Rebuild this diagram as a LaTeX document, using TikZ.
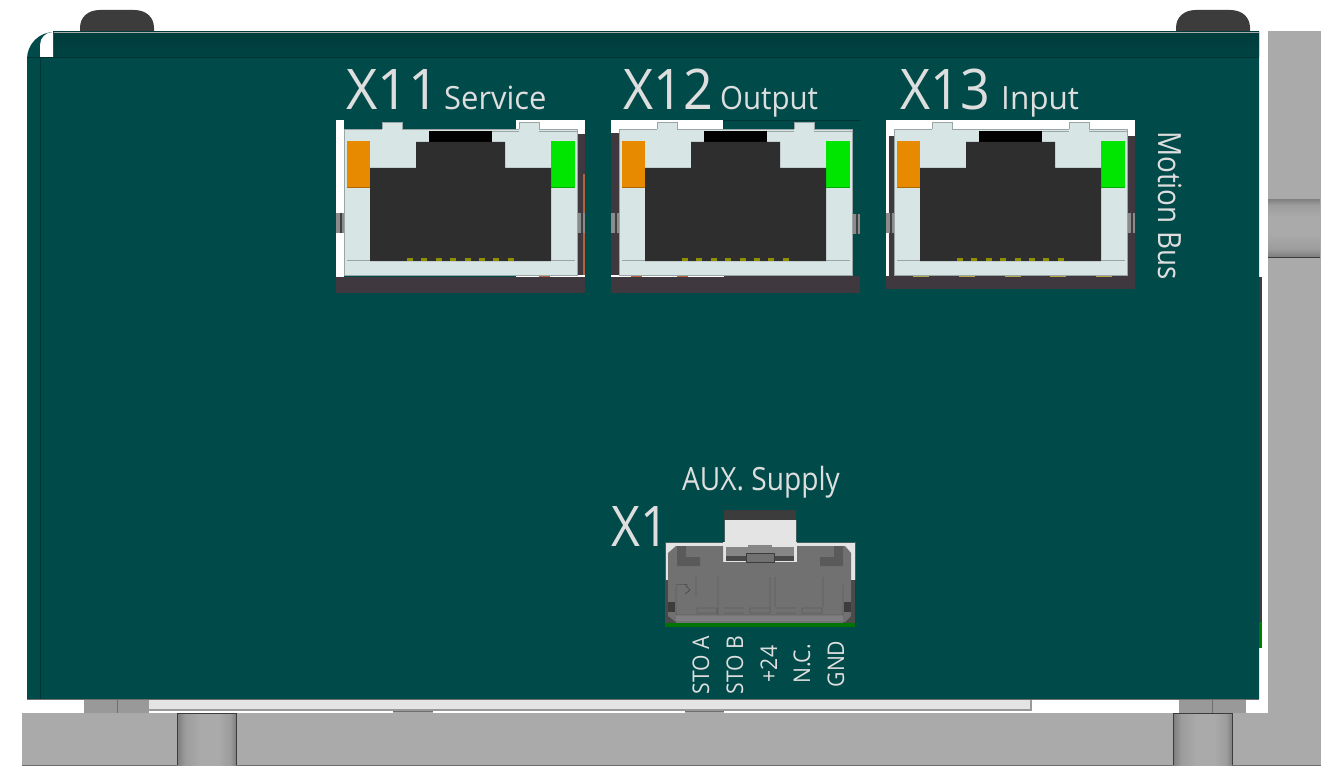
\documentclass[tikz,border=0pt]{standalone}
\usepackage{fontspec}
\setmainfont{Open Sans}
\definecolor{teal1}{HTML}{004A4A}
\definecolor{teal2}{HTML}{003C3C}
\definecolor{teal3}{HTML}{003333}
\definecolor{tealb}{HTML}{004343}
\definecolor{grey1}{HTML}{AAAAAA}
\definecolor{grey2}{HTML}{6E6E6E}
\definecolor{grey3}{HTML}{E4E4E4}
\definecolor{plight}{HTML}{D8E5E5}
\definecolor{pline}{HTML}{9AA5A5}
\definecolor{pdark}{HTML}{2E2E2E}
\definecolor{pbase}{HTML}{3F383E}
\definecolor{porange}{HTML}{E88A00}
\definecolor{pgreen}{HTML}{00E600}
\definecolor{ppin}{HTML}{8F8F00}
\definecolor{pcopper}{HTML}{B5623A}
\definecolor{pgold}{HTML}{B5A84A}
\definecolor{txt}{HTML}{DEDEDE}
\definecolor{hgrey}{HTML}{717171}
\definecolor{hmid}{HTML}{5A5A5A}
\definecolor{hdark}{HTML}{4A4A4A}
\definecolor{hline}{HTML}{3C3C3C}
\pgfdeclarehorizontalshading{studshade}{100bp}{color(0bp)=(grey2); color(22bp)=(grey2); color(32bp)=(grey1!92!black); color(45bp)=(grey1); color(60bp)=(grey1); color(70bp)=(grey1!92!black); color(78bp)=(grey2); color(100bp)=(grey2)}
\newcommand{\rct}[5]{\fill[#1] (#2,#3) rectangle (#4,#5);}
\newcommand{\clipv}[2]{%
  \fill[grey2!80!white] (#1,#2) rectangle ++(8,20);
  \fill[black!75] (#1+4,#2) rectangle ++(1.5,20);}
% common front of a port, #1 = left edge of the light body
\newcommand{\portfront}[1]{%
 \begin{scope}[shift={(#1,0)}]
  \fill[plight,draw=pline,line width=.6pt] (0,129) rectangle (233,275);
  \fill[plight] (38,122) rectangle (58,135);
  \fill[plight] (175,122) rectangle (195,135);
  \draw[pline,line width=.6pt] (38,129) -- (38,122) -- (58,122) -- (58,129);
  \draw[pline,line width=.6pt] (175,129) -- (175,122) -- (195,122) -- (195,129);
  \draw[pline,line width=.6pt] (148,131.5) -- (233,131.5);
  \fill[plight] (175,130) rectangle (195,135);
  \fill[porange] (3,141) rectangle (26,187);
  \draw[porange!75!black,line width=.8pt] (3,187) -- (26,187);
  \fill[pgreen] (207,141) rectangle (231,187);
  \draw[pgreen!75!black,line width=.8pt] (207,187) -- (231,187);
  \fill[black] (85,131) rectangle (148,142);
  \fill[pdark] (26,168) -- (72,168) -- (72,142) -- (161,142) -- (161,168) -- (207,168) -- (207,261) -- (26,261) -- cycle;
  \draw[pline,line width=.6pt] (3,260) -- (26,260) (207,260) -- (231,260);
  \foreach \i in {0,...,7} {\fill[ppin] (63+\i*14.4,258) rectangle ++(6,3);}
 \end{scope}}
\begin{document}
\begin{tikzpicture}[x=1pt,y=-1pt,
  bigt/.style={text=txt,font=\fontsize{56}{56}\selectfont,inner sep=0pt,anchor=base west,xscale=.93},
  midt/.style={text=txt,font=\fontsize{32}{32}\selectfont,inner sep=0pt,anchor=base west,xscale=.92},
  sidet/.style={text=txt,font=\fontsize{32}{32}\selectfont,inner sep=0pt,anchor=base west,rotate=-90,xscale=.87},
  pint/.style={text=txt,font=\fontsize{23}{23}\selectfont,inner sep=0pt,anchor=base,rotate=90,xscale=.92},
  studv/.style={shading=studshade},
  studh/.style={shading=studshade,shading angle=90}]
\useasboundingbox (0,0) rectangle (1337,778);
\fill[white] (0,0) rectangle (1337,778);
% knobs
\fill[hline] (80,33) -- (80,28) .. controls (80,17) and (88,10) .. (100,10) -- (134,10) .. controls (146,10) and (154,17) .. (154,28) -- (154,33) -- cycle;
\fill[hline] (1176,33) -- (1176,28) .. controls (1176,17) and (1184,10) .. (1196,10) -- (1230,10) .. controls (1242,10) and (1250,17) .. (1250,28) -- (1250,33) -- cycle;
% frame
\fill[grey1] (1268,31) rectangle (1321,765);
\fill[grey1] (22,713) rectangle (1321,765);
\draw[grey2,line width=.8pt] (22,765) -- (1321,765);
\shade[studh] (1268,199) rectangle (1320,257);
\draw[hline,line width=.8pt] (1268,257) -- (1320,257);
\shade[studv] (177,713) rectangle (236,765);
\shade[studv] (1173,713) rectangle (1232,765);
\draw[hline,line width=.7pt] (177,765) -- (177,713) -- (236,713) -- (236,765);
\draw[hline,line width=.7pt] (1173,765) -- (1173,713) -- (1232,713) -- (1232,765);
% spacers and strip
\fill[grey1!90!black] (84,699) rectangle (149,713);
\fill[grey1!90!black] (1179,699) rectangle (1246,713);
\draw[grey2,line width=.7pt] (117,699) -- (117,713) (1212,699) -- (1212,713);
\fill[grey1] (393,708) rectangle (433,713);
\fill[grey1] (685,708) rectangle (724,713);
\fill[grey2] (393,710) rectangle (433,712);
\fill[grey2] (685,710) rectangle (724,712);
\fill[gray!80] (149,709) rectangle (1032,711);
\fill[gray!80] (1030,699) rectangle (1032,711);
\fill[grey3] (149,699) rectangle (1030,709);
% rear board sliver
\rct{hline}{1259}{277}{1262}{648}
\rct{green!50!black}{1259}{622}{1262}{648}
% body
\fill[teal1] (27,699) -- (27,59) arc (180:270:27) -- (1259,32) -- (1259,699) -- cycle;
\draw[grey2,line width=.8pt] (27,699) -- (1259,699);
\shade[top color=teal2,bottom color=tealb] (53,32) rectangle (1259,57);
\fill[white] (40,57) -- (40,58-13) arc (180:270:13) -- (53,57) -- cycle;
\draw[teal3,line width=.7pt] (27,57.5) -- (1259,57.5);
\draw[teal3,line width=.7pt] (40,57) -- (40,699);
\draw[grey1,line width=.5pt] (54,32) -- (1259,32);
% port X11
\rct{pbase}{336}{277}{585}{293}
\rct{white}{336}{120}{344}{277}
\rct{white}{516}{120}{585}{134}
\rct{pbase}{577}{134}{585}{277}
\rct{pcopper}{583}{174}{585}{275}
\rct{white}{516}{275}{585}{277}
\rct{pcopper}{539}{275}{550}{277}
\clipv{336}{213}
\clipv{577}{213}
\portfront{344}
% port X12
\rct{pbase}{611}{276}{860}{293}
\rct{white}{611}{120}{723}{133}
\rct{pbase}{611}{133}{619}{276}
\rct{white}{611}{275}{724}{277}
\rct{pcopper}{631}{275}{642}{277}
\rct{pcopper}{677}{275}{688}{277}
\draw[teal3,line width=.6pt] (723,120) -- (860,120);
\clipv{611}{213}
\clipv{852}{214}
\portfront{619}
% port X13
\rct{pbase}{886}{276}{1135}{289}
\rct{white}{886}{120}{1135}{136}
\rct{white}{886}{136}{889}{276}
\rct{pbase}{889}{136}{894}{276}
\rct{pbase}{1127}{136}{1135}{276}
\foreach \gx in {913,959,1005,1050,1096} {\fill[pgold] (\gx,275) rectangle ++(16,2);}
\clipv{886}{213}
\clipv{1127}{213}
\portfront{894}
% connector X1
\rct{hline}{724}{510}{796}{520}
\rct{grey3}{724}{520}{796}{547}
\rct{grey3}{665}{542}{855}{580}
\draw[grey2!60!teal1,line width=.7pt] (665,580) -- (665,542) -- (724,542) -- (724,520) (796,520) -- (796,542) -- (855,542) -- (855,580);
\rct{hdark}{665}{580}{855}{623}
\rct{grey3}{723}{542}{797}{562}
\fill[hgrey] (668,553) -- (676,546) -- (723,546) -- (723,562) -- (797,562) -- (797,546) -- (845,546) -- (851,553) -- (851,616) -- (845,622) -- (676,622) -- (668,616) -- cycle;
\rct{hgrey!85!white}{726}{547}{794}{556}
\rct{hdark}{726}{556}{794}{561}
\fill[hgrey!85!white] (748,545) rectangle (772,553);
\fill[hgrey,draw=hline,line width=.7pt] (746,553) rectangle (774,562);
\fill[hmid] (677,546) -- (686,546) -- (686,557) -- (700,557) -- (700,566) -- (677,566) -- cycle;
\fill[hmid] (843,546) -- (834,546) -- (834,557) -- (820,557) -- (820,566) -- (843,566) -- cycle;
\rct{hline}{668}{602}{675}{612}
\rct{hline}{844}{602}{851}{612}
\fill[hgrey!90!white] (676,615) rectangle (843,621);
\draw[hline,line width=.45pt] (676,585) -- (676,615) -- (843,615) -- (843,585)
  (676,584.5) -- (688,584.5) (685,584.5) -- (690,590) -- (685,594)
  (696,577) -- (696,597) (718,577) -- (718,615)
  (770,577) -- (770,607) (775,577) -- (775,607)
  (823,577) -- (823,607)
  (697,608) rectangle (717,613)
  (724,608) -- (744,608) (724,613) -- (744,613)
  (750,608) rectangle (770,613)
  (776,608) -- (796,608) (776,613) -- (796,613)
  (802,608) rectangle (822,613);
\rct{green!45!black}{665}{623}{855}{627}
\rct{black!55}{676}{621}{843}{623}
% labels
\node[bigt,xscale=1.04] (x11) at (346,110) {X11};
\node[midt,xscale=1.05] (s11) at (444,110) {Service};
\node[bigt] (x12) at (623,110) {X12};
\node[midt] (s12) at (720,110) {Output};
\node[bigt] (x13) at (900,110) {X13};
\node[midt,xscale=1.07] (s13) at (1001,110) {Input};
\node[sidet] (mb) at (1158,131) {Motion Bus};
\node[midt,xscale=.955] (aux) at (682,490) {AUX. Supply};
\node[bigt,xscale=.96] (x1) at (611,546) {X1};
\node[pint] (p1) at (709,665) {STO A};
\node[pint] (p2) at (743,665) {STO B};
\node[pint] (p3) at (777,664) {+24};
\node[pint] (p4) at (810,664) {N.C.};
\node[pint] (p5) at (844,664) {GND};
\end{tikzpicture}
\end{document}
